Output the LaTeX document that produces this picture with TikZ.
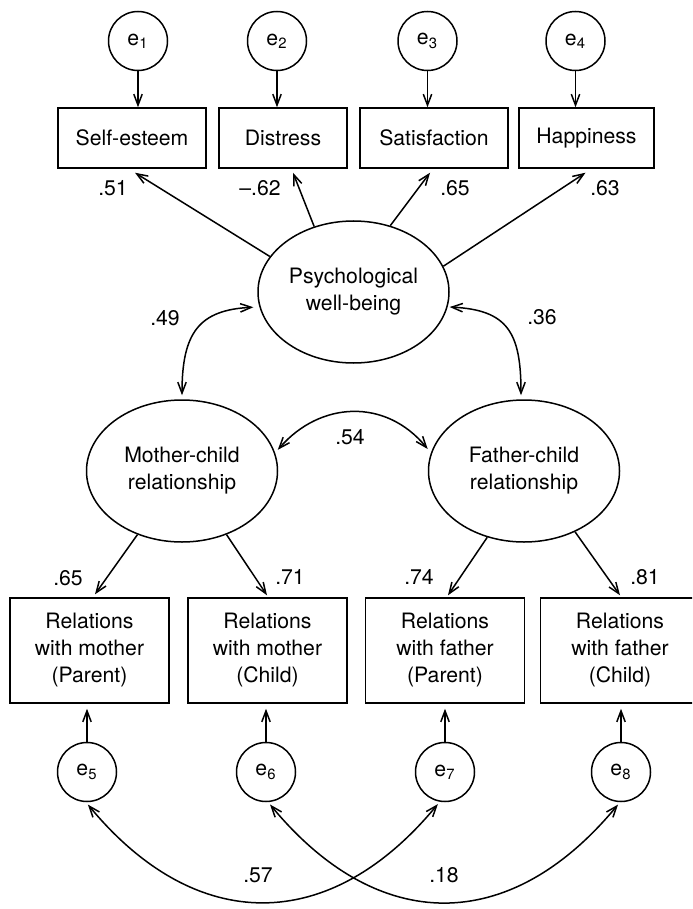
\documentclass[tikz,border=0pt]{standalone}
\usepackage{fontspec}
\setmainfont{TeX Gyre Heros}
\usetikzlibrary{arrows.meta,shapes.geometric}
\begin{document}
\begin{tikzpicture}[x=0.5pt,y=-0.5pt,
  >={Straight Barb[length=5.5pt,width=4.2pt]},
  every node/.style={font=\fontsize{10.6pt}{13.5pt}\selectfont},
  errc/.style={draw, circle, minimum size=29.5pt, inner sep=0pt, line width=0.75pt},
  obs/.style={draw, rectangle, inner sep=0pt, align=center, line width=0.75pt, minimum height=30pt},
  lbox/.style={draw, rectangle, inner sep=0pt, align=center, line width=0.75pt, minimum width=79.5pt, minimum height=52.5pt},
  lat/.style={draw, ellipse, minimum width=95.5pt, minimum height=71pt, inner sep=0pt, align=center, line width=0.75pt},
  coef/.style={inner sep=0pt},
  conn/.style={line width=0.75pt},
]
\clip (0,0) rectangle (692,909);

% error terms top
\node[errc] (e1) at (138,41) {e\textsubscript{1}};
\node[errc] (e2) at (277,41) {e\textsubscript{2}};
\node[errc] (e3) at (427.5,41) {e\textsubscript{3}};
\node[errc] (e4) at (575.5,41) {e\textsubscript{4}};

% top indicators
\node[obs, minimum width=74pt] (se) at (132,138) {Self-esteem};
\node[obs, minimum width=64pt] (di) at (283,138) {Distress};
\node[obs, minimum width=74pt] (sa) at (434,138) {Satisfaction};
\node[obs, minimum width=67.5pt] (ha) at (586.5,138) {Happiness};

% latent variables
\node[lat] (pwb) at (353.5,292) {Psychological\\well-being};
\node[lat] (mc) at (182,471) {Mother-child\\relationship};
\node[lat] (fc) at (524,471) {Father-child\\relationship};

% bottom indicators
\node[lbox] (b1) at (89.5,650.5) {Relations\\with mother\\(Parent)};
\node[lbox] (b2) at (267.5,650.5) {Relations\\with mother\\(Child)};
\node[lbox] (b3) at (445,650.5) {Relations\\with father\\(Parent)};
\node[lbox] (b4) at (620,650.5) {Relations\\with father\\(Child)};

% error terms bottom
\node[errc] (e5) at (87,772) {e\textsubscript{5}};
\node[errc] (e6) at (266,772) {e\textsubscript{6}};
\node[errc] (e7) at (445,772) {e\textsubscript{7}};
\node[errc] (e8) at (621,772) {e\textsubscript{8}};

% error arrows top
\draw[conn,->] (e1) -- (e1 |- se.north);
\draw[conn,->] (e2) -- (e2 |- di.north);
\draw[conn,->] (e3) -- (e3 |- sa.north);
\draw[conn,->] (e4) -- (e4 |- ha.north);

% loadings PWB
\draw[conn,->] (pwb.157) -- ([shift={(3,4)}]se.south);
\draw[conn,->] (pwb.121) -- ([shift={(10,4)}]di.south);
\draw[conn,->] (pwb.61) -- ([shift={(-4,4)}]sa.south);
\draw[conn,->] (pwb.16) -- ([shift={(-1,4)}]ha.south);

\node[coef] (l51) at (113,188) {.51};
\node[coef] (l62) at (260,188) {\textendash.62};
\node[coef] (l65a) at (455,188) {.65};
\node[coef] (l63) at (605,188) {.63};

% correlations among latents
\draw[conn,<->, shorten <=3pt, shorten >=2pt] (pwb.189) .. controls +(-60,3) and +(0,-67) .. (mc.north);
\draw[conn,<->, shorten <=1pt, shorten >=2pt] (pwb.-9) .. controls +(60,3) and +(0,-67) .. ([xshift=-1.5pt]fc.north);
\draw[conn,<->, shorten <=2pt, shorten >=2.5pt] (mc.11) .. controls +(45,-52) and +(-45,-55) .. (fc.169);

\node[coef] (l49) at (165,318) {.49};
\node[coef] (l36) at (542,317) {.36};
\node[coef] (l54) at (350,437) {.54};

% loadings MC / FC
\draw[conn,->] (mc.235) -- ([shift={(5.5,-3)}]b1.north);
\draw[conn,->] (mc.305) -- ([shift={(-0.5,-2)}]b2.north);
\draw[conn,->] (fc.241) -- ([shift={(3,-2)}]b3.north);
\draw[conn,->] (fc.310) -- ([shift={(0,-2)}]b4.north);

\node[coef] (l65b) at (68,578) {.65};
\node[coef] (l71) at (290,577) {.71};
\node[coef] (l74) at (419,577) {.74};
\node[coef] (l81) at (645,577) {.81};

% error arrows bottom
\draw[conn,->, shorten >=2.5pt] (e5) -- (e5 |- b1.south);
\draw[conn,->, shorten >=2.5pt] (e6) -- (e6 |- b2.south);
\draw[conn,->, shorten >=2.5pt] (e7) -- (e7 |- b3.south);
\draw[conn,->, shorten >=2.5pt] (e8) -- (e8 |- b4.south);

% error covariances
\draw[conn,<->, shorten <=1.5pt, shorten >=1.5pt] (e5.-92) .. controls +(110,133) and +(-110,133) .. (e7.-100);
\draw[conn,<->, shorten <=1.5pt, shorten >=1.5pt] (e6.-86) .. controls +(110,133) and +(-110,133) .. (e8.-92);

\node[coef] (l57) at (258,875) {.57};
\node[coef] (l18) at (444,875) {.18};
\end{tikzpicture}
\end{document}
